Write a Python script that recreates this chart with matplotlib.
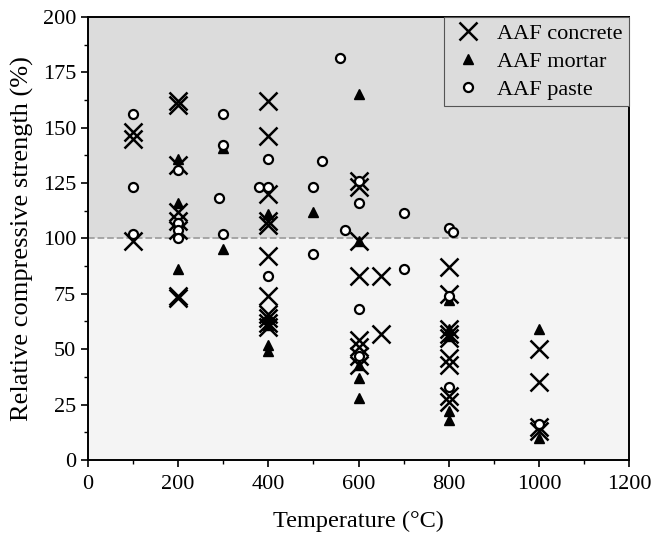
import matplotlib
matplotlib.use("Agg")
import matplotlib.pyplot as plt
from matplotlib.ticker import MultipleLocator

plt.rcParams.update({
    "font.family": "Liberation Serif",
    "font.size": 15,
    "xtick.direction": "out",
    "ytick.direction": "out",
})

# relative compressive strength after exposure, per material
concrete_t = [100, 100, 100,
              200, 200, 200, 200, 200, 200, 200, 200,
              400, 400, 400, 400, 400, 400, 400, 400, 400, 400, 400,
              600, 600, 600, 600, 600, 600, 600, 600,
              650, 650,
              800, 800, 800, 800, 800, 800, 800, 800, 800,
              1000, 1000, 1000, 1000]
concrete_s = [148, 145, 99,
              162, 160, 133, 112, 108, 104, 74, 73,
              162, 146, 120, 108, 106, 92, 74, 66, 64, 62, 60,
              126, 123, 99, 83, 54, 51, 47, 43,
              83, 57,
              87, 75, 59, 57, 55, 46, 43, 29, 26,
              50, 35, 15, 13]

mortar_t = [200, 200, 200, 300, 300,
            400, 400, 400, 400, 400, 500,
            600, 600, 600, 600, 600,
            800, 800, 800, 800, 800, 1000, 1000]
mortar_s = [136, 116, 86, 141, 95,
            111, 64, 61, 52, 49, 112,
            165, 99, 43, 37, 28,
            72, 59, 56, 22, 18, 59, 10]

paste_t = [100, 100, 100, 200, 200, 200, 200,
           290, 300, 300, 300, 380, 400, 400, 400,
           500, 500, 520, 560, 570,
           600, 600, 600, 600, 700, 700,
           800, 810, 800, 800, 1000]
paste_s = [156, 123, 102, 131, 107, 104, 100,
           118, 156, 142, 102, 123, 136, 123, 83,
           123, 93, 135, 181.5, 104,
           126, 116, 68, 47, 111.5, 86,
           104.5, 103, 74, 33, 16]

fig = plt.figure(figsize=(6.56, 5.43), dpi=100)
ax = fig.add_axes([0.134, 0.153, 0.825, 0.816])

# shaded regions above / below the reference strength
ax.axhspan(100, 200, color="#dcdcdc", zorder=0, lw=0)
ax.axhspan(0, 100, color="#f4f4f4", zorder=0, lw=0)
ax.axhline(100, color="#a0a0a0", ls="--", lw=1.3, zorder=1)

ax.plot(concrete_t, concrete_s, ls="none", marker="x", ms=12.5, mew=1.8,
        color="black", label="AAF concrete", zorder=3)
ax.plot(mortar_t, mortar_s, ls="none", marker="^", ms=7, mew=1,
        color="black", label="AAF mortar", zorder=4)
ax.plot(paste_t, paste_s, ls="none", marker="o", ms=6.5, mew=1.6,
        mfc="white", mec="black", label="AAF paste", zorder=5)

ax.set_xlim(0, 1200)
ax.set_ylim(0, 200)
ax.xaxis.set_major_locator(MultipleLocator(200))
ax.xaxis.set_minor_locator(MultipleLocator(100))
ax.yaxis.set_major_locator(MultipleLocator(25))
ax.yaxis.set_minor_locator(MultipleLocator(12.5))
ax.tick_params(which="major", length=5, width=1.2, labelsize=16)
ax.tick_params(which="minor", length=3, width=1.0)
ax.tick_params(axis="x", pad=6)
for sp in ax.spines.values():
    sp.set_linewidth(1.4)

ax.set_xlabel("Temperature (°C)", fontsize=17.5, labelpad=12)
ax.set_ylabel("Relative compressive strength (%)", fontsize=19, labelpad=6)

leg = ax.legend(loc="upper right", fontsize=16, frameon=True, fancybox=False,
                borderaxespad=0, handletextpad=0.5, borderpad=0.3,
                labelspacing=0.33, handlelength=1.6)
leg.get_frame().set_edgecolor("#555555")
leg.get_frame().set_facecolor("#dcdcdc")
leg.get_frame().set_alpha(1)
leg.get_frame().set_linewidth(0.8)

fig.savefig("out.png", dpi=100)
